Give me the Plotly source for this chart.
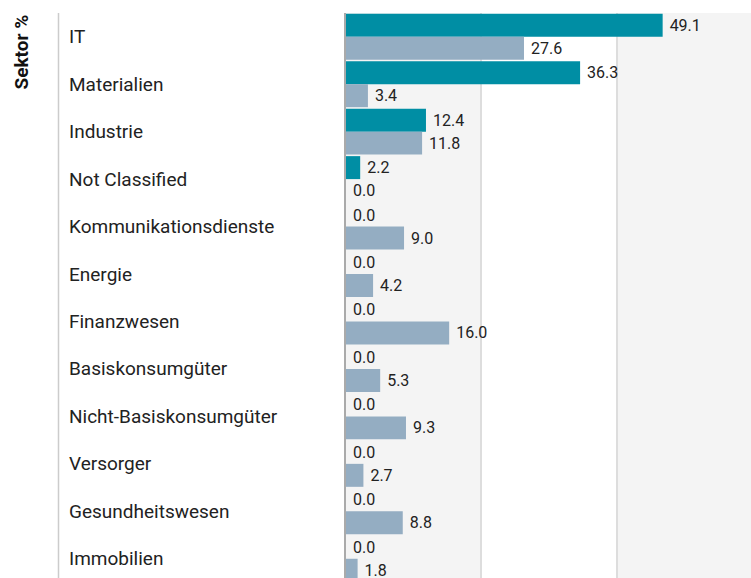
import plotly.graph_objects as go

categories = ["IT", "Materialien", "Industrie", "Not Classified", "Kommunikationsdienste",
              "Energie", "Finanzwesen", "Basiskonsumgüter", "Nicht-Basiskonsumgüter",
              "Versorger", "Gesundheitswesen", "Immobilien"]
fund = [49.1, 36.3, 12.4, 2.2, 0.0, 0.0, 0.0, 0.0, 0.0, 0.0, 0.0, 0.0]
benchmark = [27.6, 3.4, 11.8, 0.0, 9.0, 4.2, 16.0, 5.3, 9.3, 2.7, 8.8, 1.8]
grid_ticks = [21, 42]
x_max = 62.8
axis_title = "Sektor %"

W, H = 751, 578
L, T = 346, 12.5
plot_w = W - L

fig = go.Figure()
fig.add_trace(go.Bar(
    y=categories, x=fund, orientation="h", name="Fonds",
    marker=dict(color="#008ea4", line=dict(width=0)),
    texttemplate="\u00a0%{x:.1f}", textposition="outside", constraintext="none",
    textfont=dict(family="Roboto", size=16, color="#222222"),
))
fig.add_trace(go.Bar(
    y=categories, x=benchmark, orientation="h", name="Benchmark",
    marker=dict(color="#94adc2", line=dict(width=0)),
    texttemplate="\u00a0%{x:.1f}", textposition="outside", constraintext="none",
    textfont=dict(family="Roboto", size=16, color="#222222"),
))

shapes = [
    dict(type="rect", xref="x", yref="paper", x0=0, x1=grid_ticks[0], y0=0, y1=1,
         fillcolor="#f4f4f4", line=dict(width=0), layer="below"),
    dict(type="rect", xref="x", yref="paper", x0=grid_ticks[1], x1=x_max, y0=0, y1=1,
         fillcolor="#f4f4f4", line=dict(width=0), layer="below"),
    dict(type="line", xref="paper", yref="paper", x0=(58.5 - L) / plot_w, x1=(58.5 - L) / plot_w,
         y0=0, y1=1, line=dict(color="#cccccc", width=1.5)),
]

annotations = [
    dict(text=c, xref="paper", yref="y", x=(67 - L) / plot_w, y=c, xanchor="left",
         yanchor="middle", showarrow=False,
         font=dict(family="Roboto", size=19, color="#222222"))
    for c in categories
]
annotations.append(dict(
    text="<b>" + axis_title + "</b>", xref="paper", yref="paper",
    x=(21 - L) / plot_w, y=1, xanchor="center", yanchor="top", textangle=-90,
    showarrow=False, font=dict(family="Roboto", size=19, color="#111111")))

fig.update_layout(
    width=W, height=H,
    margin=dict(l=L, r=0, t=T, b=0, pad=0),
    paper_bgcolor="white", plot_bgcolor="white",
    barmode="group", bargap=0.032, bargroupgap=0,
    showlegend=False,
    shapes=shapes, annotations=annotations,
    xaxis=dict(range=[0, x_max], tickvals=grid_ticks, showticklabels=False,
               showgrid=True, gridcolor="#dddddd", gridwidth=2, zeroline=False,
               fixedrange=True),
    yaxis=dict(categoryorder="array", categoryarray=categories,
               range=[-0.5 + (H - T) / 47.5, -0.5], showticklabels=False,
               showgrid=False, showline=True, linecolor="#aaaaaa", linewidth=2,
               ticks="", zeroline=False, fixedrange=True),
)

fig.write_html("out.html", config={"displayModeBar": False},
               post_script="document.body.style.margin='0';document.body.style.overflow='hidden';")
